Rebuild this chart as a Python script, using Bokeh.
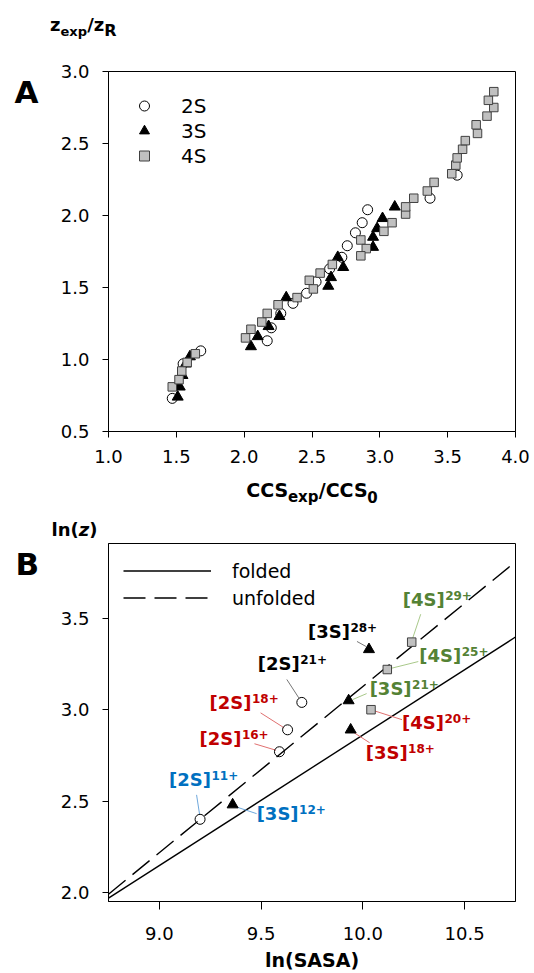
from bokeh.plotting import figure
from bokeh.models import (Range1d, FixedTicker, NumeralTickFormatter, Label,
                          Legend, LegendItem, ColumnDataSource)
from bokeh.layouts import column, row
from bokeh.embed import file_html
from bokeh.resources import INLINE
from bokeh.core.properties import value

# ---------------- data: panel A (z_exp/z_R vs CCS_exp/CCS_0) ----------------
a_series = ["2S", "3S", "4S"]
a_2s_x = [1.47, 1.55, 1.68, 2.17, 2.20, 2.27, 2.36, 2.46, 2.53, 2.63, 2.72, 2.76,
          2.82, 2.87, 2.91, 3.37, 3.57]
a_2s_y = [0.73, 0.97, 1.06, 1.13, 1.22, 1.32, 1.39, 1.46, 1.54, 1.63, 1.71, 1.79,
          1.88, 1.95, 2.04, 2.12, 2.28]
a_3s_x = [1.51, 1.525, 1.545, 1.57, 1.60, 2.05, 2.10, 2.18, 2.26, 2.31, 2.62, 2.64,
          2.69, 2.73, 2.95, 2.95, 2.98, 3.02, 3.11]
a_3s_y = [0.74, 0.81, 0.89, 0.97, 1.02, 1.09, 1.16, 1.23, 1.30, 1.43, 1.51, 1.57,
          1.71, 1.64, 1.78, 1.85, 1.91, 1.98, 2.06]
a_4s_x = [1.47, 1.52, 1.54, 1.58, 1.64, 2.01, 2.05, 2.13, 2.17, 2.25, 2.39, 2.48,
          2.51, 2.56, 2.65, 2.86, 2.90, 2.86, 3.03, 3.09, 3.19, 3.19, 3.25, 3.35,
          3.40, 3.53, 3.56, 3.57, 3.61, 3.63, 3.72, 3.71, 3.79, 3.84, 3.80, 3.84]
a_4s_y = [0.81, 0.86, 0.92, 0.98, 1.04, 1.15, 1.21, 1.26, 1.32, 1.38, 1.43, 1.55,
          1.49, 1.60, 1.66, 1.83, 1.77, 1.72, 1.89, 1.95, 2.01, 2.06, 2.12, 2.17,
          2.23, 2.29, 2.35, 2.40, 2.46, 2.52, 2.57, 2.63, 2.69, 2.75, 2.80, 2.86]
a_xticks = [1.0, 1.5, 2.0, 2.5, 3.0, 3.5, 4.0]
a_yticks = [0.5, 1.0, 1.5, 2.0, 2.5, 3.0]

# ---------------- data: panel B (ln z vs ln SASA) ----------------
b_2s_x = [9.20, 9.59, 9.63, 9.70]
b_2s_y = [2.40, 2.77, 2.89, 3.04]
b_2s_charge = ["11+", "16+", "18+", "21+"]
b_3s_x = [9.36, 9.93, 9.94, 10.03]
b_3s_y = [2.48, 3.05, 2.89, 3.33]
b_3s_charge = ["12+", "21+", "18+", "28+"]
b_4s_x = [10.04, 10.12, 10.24]
b_4s_y = [3.00, 3.22, 3.37]
b_4s_charge = ["20+", "25+", "29+"]
b_line_x = [8.75, 10.75]
b_folded_y = [1.968, 3.398]
b_unfolded_y = [1.99, 3.81]
b_line_names = ["folded", "unfolded"]
b_xticks = [9.0, 9.5, 10.0, 10.5]
b_yticks = [2.0, 2.5, 3.0, 3.5]
b_xtitle = "ln(SASA)"

# ---------------- styles / layout ----------------
FONT = "DejaVu Sans"
W = 534
STRIP = 45                      # left strip holding the panel letters
PW = W - STRIP                  # width of each plotting figure
ML, FW = 63, 407                # left border (within plot fig) and frame width
A_MT, A_FH, A_MB = 18, 360, 42
B_MT, B_FH, B_MB = 2, 359, 71
A_H = A_MT + A_FH + A_MB
B_H = B_MT + B_FH + B_MB
T1_H, T2_H, T3_H = 53, 37, 31
A_XR, A_YR = (1.0, 4.0), (0.5, 3.0)
B_XR, B_YR = (8.75, 10.75), (1.95, 3.91)
FRAME_CX = STRIP + ML + FW / 2
BASE_FIX = 0.5                  # renderer places "alphabetic" text ~0.5 em low

RED, BLUE, GREEN, BLACK = "#C00000", "#0070C0", "#548235", "#000000"
LEAD = {RED: "#E07070", BLUE: "#6FA8DC", GREEN: "#A9C98A", BLACK: "#777777"}

BOLD_W = {'(': 457, ')': 457, '+': 838, '/': 365, '[': 457, ']': 457, 'A': 774,
          'B': 762, 'C': 734, 'R': 770, 'S': 720, 'e': 678, 'x': 663, 'p': 716,
          'z': 582, 'l': 343, 'n': 712}
for d in "0123456789":
    BOLD_W[d] = 696


def tw(t, size):
    return sum(BOLD_W.get(c, 650) for c in t) * size / 1000.0


def base_style(p):
    p.background_fill_color = "white"
    p.border_fill_color = "white"


def make_plot(xr, yr, mt, fh, mb):
    p = figure(width=PW, height=mt + fh + mb, x_range=Range1d(*xr),
               y_range=Range1d(*yr), output_backend="svg", toolbar_location=None,
               min_border_left=ML, min_border_right=PW - ML - FW,
               min_border_top=mt, min_border_bottom=mb)
    base_style(p)
    p.grid.visible = False
    p.outline_line_color = "black"
    p.outline_line_width = 1
    for ax in (p.xaxis[0], p.yaxis[0]):
        ax.axis_line_color = "black"
        ax.major_tick_line_color = "black"
        ax.minor_tick_line_color = None
        ax.major_tick_in = 0
        ax.major_tick_out = 6
        ax.major_label_text_font = FONT
        ax.major_label_text_font_size = "18px"
        ax.major_label_text_color = "black"
        ax.formatter = NumeralTickFormatter(format="0.0")
    p.yaxis[0].major_label_standoff = 13
    return p


def text_fig(w, h):
    f = figure(width=w, height=h, x_range=Range1d(0, w), y_range=Range1d(h, 0),
               output_backend="svg", toolbar_location=None, min_border=0,
               min_border_left=0, min_border_right=0, min_border_top=0,
               min_border_bottom=0, x_axis_type=None, y_axis_type=None)
    base_style(f)
    f.outline_line_color = None
    return f


def put(p, txt, left, base, size, style="bold", color="black"):
    p.add_layout(Label(x=left, y=base - BASE_FIX * size, text=txt, text_font=FONT,
                       text_font_size=f"{size}px", text_font_style=style,
                       text_color=color, text_align="left",
                       text_baseline="alphabetic"))


def put_seq(p, pieces, left, base):
    x = left
    for t, size, dy, style in pieces:
        put(p, t, x, base + dy, size, style)
        x += tw(t, size)


def seq_width(pieces):
    return sum(tw(t, s) for t, s, _, _ in pieces)


# ================= title row above panel A =================
t1 = text_fig(W, T1_H)
put_seq(t1, [("z", 18, 0, "bold"), ("exp", 13, 4.5, "bold"),
             ("/", 18, 0, "bold"), ("z", 18, 0, "bold"),
             ("R", 16, 5, "bold")], 49.5, 33)

# ================= Panel A =================
sA = text_fig(STRIP, A_H)
put(sA, "A", 14, 92 - T1_H, 31)

pA = make_plot(A_XR, A_YR, A_MT, A_FH, A_MB)
pA.xaxis[0].ticker = FixedTicker(ticks=a_xticks)
pA.yaxis[0].ticker = FixedTicker(ticks=a_yticks)
pA.xaxis[0].major_label_standoff = 12

rA_c = pA.scatter(a_2s_x, a_2s_y, marker="circle", size=10, fill_color="white",
                  line_color="black", line_width=1)
rA_t = pA.scatter(a_3s_x, a_3s_y, marker="triangle", size=11, fill_color="black",
                  line_color="black", line_width=1)
rA_s = pA.scatter(a_4s_x, a_4s_y, marker="square", size=8.5, fill_color="#C0C0C0",
                  line_color="#404040", line_width=1)

legA = Legend(items=[LegendItem(label=a_series[0], renderers=[rA_c]),
                     LegendItem(label=a_series[1], renderers=[rA_t]),
                     LegendItem(label=a_series[2], renderers=[rA_s])],
              location="top_left", margin=0, padding=22, glyph_width=28,
              glyph_height=25, label_height=25, spacing=0, label_standoff=23,
              label_text_font=FONT, label_text_font_size="20px",
              label_text_color="black",
              background_fill_alpha=0, border_line_alpha=0)
pA.add_layout(legA)

# ================= x title of A =================
t2 = text_fig(W, T2_H)
ccs = [("CCS", 19, 0, "bold"), ("exp", 15, 5, "bold"), ("/", 19, 0, "bold"),
       ("CCS", 19, 0, "bold"), ("0", 15, 5, "bold")]
put_seq(t2, ccs, FRAME_CX - seq_width(ccs) / 2, 25.5)

# ================= y title of B =================
t3 = text_fig(W, T3_H)
put_seq(t3, [("ln(", 18, 0, "bold"), ("z", 18, 0, "bold italic"),
             (")", 18, 0, "bold")], 51, 27.5)

# ================= Panel B =================
sB = text_fig(STRIP, B_H)
put(sB, "B", 15, 40, 31)

pB = make_plot(B_XR, B_YR, B_MT, B_FH, B_MB)
pB.xaxis[0].ticker = FixedTicker(ticks=b_xticks)
pB.yaxis[0].ticker = FixedTicker(ticks=b_yticks)
pB.xaxis[0].major_tick_out = 8
pB.xaxis[0].major_label_standoff = 17
pB.xaxis[0].axis_label = b_xtitle
pB.xaxis[0].axis_label_text_font = FONT
pB.xaxis[0].axis_label_text_font_size = "19px"
pB.xaxis[0].axis_label_text_font_style = "bold"
pB.xaxis[0].axis_label_text_color = "black"
pB.xaxis[0].axis_label_standoff = 6

r_fold = pB.line(b_line_x, b_folded_y, line_color="black", line_width=1.4)
r_unf = pB.line(b_line_x, b_unfolded_y, line_color="black", line_width=1.4,
                line_dash="22 9")

legB = Legend(items=[LegendItem(label=b_line_names[0], renderers=[r_fold]),
                     LegendItem(label=b_line_names[1], renderers=[r_unf])],
              location="top_left", margin=0, padding=15, glyph_width=88,
              glyph_height=25, label_height=25, spacing=2, label_standoff=21,
              label_text_font=FONT, label_text_font_size="19px",
              label_text_color="black",
              background_fill_alpha=0, border_line_alpha=0)
pB.add_layout(legB)

# label styling: (colour, text dx, text dy, leader start dx,dy, leader end dx,dy) in px
lab_2s = [(BLUE, -31, -31, (-0.5, -5), (-3.5, -24.5)),
          (RED, -80, -4, (-3.5, -1.5), (-25, -8)),
          (RED, -78, -18, (-3.5, -2), (-27, -17)),
          (BLACK, -44, -30, (-3, -4.5), (-15, -23))]
lab_3s = [(BLUE, 24, 18, (3, 2), (24, 9)),
          (GREEN, 21, -3, (4, -1), (18, -7)),
          (RED, 15, 32, (2, 2), (19, 13)),
          (BLACK, -61, -9, (-3, -3), (-12, -8))]
lab_4s = [(RED, 31, 22, (3, 1), (31, 10)),
          (GREEN, 32, -5, (3, -1), (31, -8)),
          (GREEN, -9, -34, (1, -4), (9, -28))]

kx = (B_XR[1] - B_XR[0]) / FW
ky = (B_YR[1] - B_YR[0]) / B_FH
MAIN_FS, SUP_FS = 18, 12
txt = dict(x=[], y=[], main=[], sup=[], dx=[], dy=[], sdx=[], sdy=[], color=[])
lead = dict(x0=[], y0=[], x1=[], y1=[], color=[])
for name, xs, ys, chs, labs in (("[2S]", b_2s_x, b_2s_y, b_2s_charge, lab_2s),
                                ("[3S]", b_3s_x, b_3s_y, b_3s_charge, lab_3s),
                                ("[4S]", b_4s_x, b_4s_y, b_4s_charge, lab_4s)):
    for xv, yv, ch, (col, dx, dy, s0, s1) in zip(xs, ys, chs, labs):
        txt["x"].append(xv); txt["y"].append(yv)
        txt["main"].append(name); txt["sup"].append(ch)
        txt["dx"].append(dx)
        txt["dy"].append(dy - BASE_FIX * MAIN_FS)
        txt["sdx"].append(dx + tw(name, MAIN_FS) + 0.5)
        txt["sdy"].append(dy - 7 - BASE_FIX * SUP_FS)
        txt["color"].append(col)
        lead["x0"].append(xv + s0[0] * kx); lead["y0"].append(yv - s0[1] * ky)
        lead["x1"].append(xv + s1[0] * kx); lead["y1"].append(yv - s1[1] * ky)
        lead["color"].append(LEAD[col])

pB.segment(x0="x0", y0="y0", x1="x1", y1="y1", line_color="color", line_width=1,
           source=ColumnDataSource(lead))
pB.scatter(b_2s_x, b_2s_y, marker="circle", size=10, fill_alpha=0,
           line_color="black", line_width=1)
pB.scatter(b_3s_x, b_3s_y, marker="triangle", size=11, fill_color="black",
           line_color="black")
pB.scatter(b_4s_x, b_4s_y, marker="square", size=8.5, fill_color="#C0C0C0",
           line_color="#404040")

tsrc = ColumnDataSource(txt)
pB.text(x="x", y="y", text="main", x_offset="dx", y_offset="dy", text_color="color",
        text_font=value(FONT), text_font_style="bold", text_font_size=f"{MAIN_FS}px",
        text_align="left", text_baseline="alphabetic", source=tsrc)
pB.text(x="x", y="y", text="sup", x_offset="sdx", y_offset="sdy", text_color="color",
        text_font=value(FONT), text_font_style="bold", text_font_size=f"{SUP_FS}px",
        text_align="left", text_baseline="alphabetic", source=tsrc)

layout = column(t1, row(sA, pA), t2, t3, row(sB, pB))
open("out.html", "w").write(file_html(layout, INLINE))
